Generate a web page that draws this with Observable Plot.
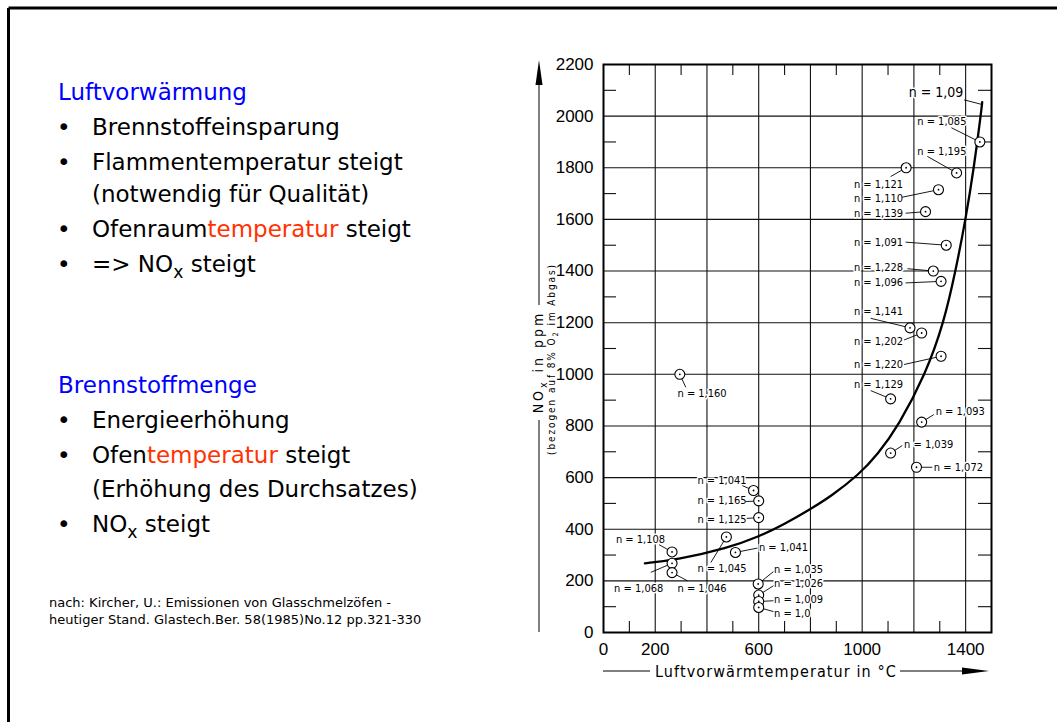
<!DOCTYPE html>
<html><head><meta charset="utf-8">
<script src="https://cdn.jsdelivr.net/npm/d3@7"></script>
<script src="https://cdn.jsdelivr.net/npm/@observablehq/plot@0.6"></script>
<style>
html,body{margin:0;padding:0;background:#fff;}
#wrap{position:relative;width:1057px;height:722px;overflow:hidden;}
</style></head><body><div id="wrap"></div>
<script>
// ---- scale ticks ----
const xMajor = [200, 400, 600, 800, 1000, 1200, 1400];
const yMajor = [200, 400, 600, 800, 1000, 1200, 1400, 1600, 1800, 2000];
const xMinor = [100, 300, 500, 700, 900, 1100, 1300];
const yMinor = [100, 300, 500, 700, 900, 1100, 1300, 1500, 1700, 1900, 2100];
const xTickLabels = [0, 200, 600, 1000, 1400];
const yTickLabels = [0, 200, 400, 600, 800, 1000, 1200, 1400, 1600, 1800, 2000, 2200];

// ---- fitted curve ----
const curveX = [160, 285, 480, 600, 700, 800, 880, 988, 1060, 1140, 1245, 1316, 1361, 1400, 1432, 1458, 1464];
const curveY = [268, 282, 327, 371, 420, 478, 528, 612, 690, 800, 1000, 1200, 1400, 1600, 1800, 2000, 2054];
const curveN = "1,09";
const curveLabelX = 1180, curveLabelY = 2093;
const curveLeaderX = 1394, curveLeaderY = 2063;
const curveLeaderEndX = 1464, curveLeaderEndY = 2045;

// ---- measured points ----
const pointN = ["1,085","1,195","1,121","1,110","1,139","1,091","1,228","1,096","1,141","1,202","1,220","1,129","1,160","1,093","1,039","1,072","1,041","1,165","1,125","1,108","1,068","1,046","1,045","1,041","1,035","1,026","1,009","1,0"];
const pointX = [1455,1365,1170,1295,1245,1325,1275,1305,1185,1230,1305,1110,295,1230,1110,1210,580,600,600,265,265,265,475,510,598,600,600,600];
const pointY = [1900,1780,1800,1715,1630,1500,1400,1360,1180,1160,1070,905,1000,815,695,640,550,510,445,312,268,232,370,310,188,145,120,97];
// label anchors (start of text) and leader-line start, in data units
const labelX = [1213,1213,968,968,968,968,968,968,968,968,968,968,286,1284,1162,1277,363,363,363,48,41,286,363,601,659,659,659,659];
const labelY = [1979,1863,1734,1682,1624,1512,1412,1354,1243,1127,1038,959,926,855,730,640,588,510,436,359,172,172,248,330,246,188,129,74];
const leaderX = [1345,1252,1110,1155,1168,1168,1175,1168,1033,1162,1162,1033,318,1277,1155,1271,537,550,554,215,183,325,415,595,657,657,657,657];
const leaderY = [1955,1844,1766,1686,1624,1512,1409,1354,1217,1133,1038,937,950,844,724,640,569,507,442,340,233,200,271,327,236,181,123,81];

const points = pointX.map((x, i) => ({x, y: pointY[i], n: pointN[i], lx: labelX[i], ly: labelY[i], ax: leaderX[i], ay: leaderY[i]}));
const curve = curveX.map((x, i) => ({x, y: curveY[i]}));

// ---- slide text ----
const BLUE = "#0000ff", RED = "#ff3300";
const block1Title = "Luftvorwärmung";
const block1Lines = [
  [{t: "Brennstoffeinsparung"}],
  [{t: "Flammentemperatur steigt"}],
  [{t: "(notwendig für Qualität)"}],
  [{t: "Ofenraum"}, {t: "temperatur", c: RED}, {t: " steigt"}],
  [{t: "=> NO"}, {t: "x", sub: true}, {t: " steigt"}]
];
const block1Bullets = [true, true, false, true, true];
const block2Title = "Brennstoffmenge";
const block2Lines = [
  [{t: "Energieerhöhung"}],
  [{t: "Ofen"}, {t: "temperatur", c: RED}, {t: " steigt"}],
  [{t: "(Erhöhung des Durchsatzes)"}],
  [{t: "NO"}, {t: "x", sub: true}, {t: " steigt"}]
];
const block2Bullets = [true, true, false, true];
const citation = ["nach: Kircher, U.: Emissionen von Glasschmelzöfen -", "heutiger Stand. Glastech.Ber. 58(1985)No.12 pp.321-330"];
const xLabel = "Luftvorwärmtemperatur in °C";

// ---- layout ----
const W = 1057, H = 722;
const mL = 603, mR = 66, mT = 64, mB = 90;
const innerW = W - mL - mR, innerH = H - mT - mB;
const minorLen = 11, minorLenY = 13;
const COND = "'DejaVu Sans Condensed', 'DejaVu Sans', sans-serif";

const plot = Plot.plot({
  width: W, height: H,
  marginLeft: mL, marginRight: mR, marginTop: mT, marginBottom: mB,
  style: {fontFamily: "'Liberation Sans Narrow', 'Liberation Sans', sans-serif", fontSize: "17px", background: "transparent", color: "#000", overflow: "visible"},
  x: {domain: [0, 1500], ticks: xTickLabels, tickSize: 0, tickPadding: 10, tickFormat: "d", label: null},
  y: {domain: [0, 2200], ticks: yTickLabels, tickSize: 0, tickPadding: 10, tickFormat: "d", label: null},
  marks: [
    Plot.ruleX(xMajor, {stroke: "#111", strokeWidth: 1.1}),
    Plot.ruleY(yMajor, {stroke: "#111", strokeWidth: 1.1}),
    Plot.tickX(xMinor, {x: d => d, insetTop: innerH - minorLen, stroke: "#111", strokeWidth: 1.1}),
    Plot.tickX(xMinor, {x: d => d, insetBottom: innerH - minorLen, stroke: "#111", strokeWidth: 1.1}),
    Plot.tickY(yMinor, {y: d => d, insetRight: innerW - minorLenY, stroke: "#111", strokeWidth: 1.1}),
    Plot.tickY(yMinor, {y: d => d, insetLeft: innerW - minorLenY, stroke: "#111", strokeWidth: 1.1}),
    Plot.frame({stroke: "#000", strokeWidth: 2}),
    Plot.text(points, {x: "lx", y: "ly", text: d => "n = " + d.n, textAnchor: "start", fontSize: 11, fontFamily: COND, fill: "#000", stroke: "#fff", strokeWidth: 3}),
    Plot.text([curveN], {x: () => curveLabelX, y: () => curveLabelY, text: d => "n = " + d, textAnchor: "start", fontSize: 14, fontFamily: COND, fill: "#000", stroke: "#fff", strokeWidth: 3}),
    Plot.link(points, {x1: "ax", y1: "ay", x2: "x", y2: "y", stroke: "#000", strokeWidth: 0.9}),
    Plot.link([curveN], {x1: () => curveLeaderX, y1: () => curveLeaderY, x2: () => curveLeaderEndX, y2: () => curveLeaderEndY, stroke: "#000", strokeWidth: 0.9}),
    Plot.line(curve, {x: "x", y: "y", curve: "basis", stroke: "#000", strokeWidth: 2.3}),
    Plot.dot(points, {x: "x", y: "y", r: 5, stroke: "#000", fill: "#fff", strokeWidth: 1.1}),
    Plot.dot(points, {x: "x", y: "y", r: 0.9, fill: "#000", stroke: "none"})
  ]
});
document.getElementById("wrap").appendChild(plot);

const svg = d3.select(plot);
const g = svg.append("g").attr("text-anchor", "start");

// slide border (top + left)
g.append("line").attr("x1", 8.5).attr("y1", 8).attr("x2", W).attr("y2", 8).attr("stroke", "#000").attr("stroke-width", 3);
g.append("line").attr("x1", 8.5).attr("y1", 8).attr("x2", 8.5).attr("y2", H).attr("stroke", "#000").attr("stroke-width", 3);

function addParts(x, y, parts, size, family, color) {
  const t = g.append("text").attr("x", x).attr("y", y).attr("text-anchor", "start")
    .style("font-family", family).style("font-size", size + "px").attr("fill", color || "#000");
  let shifted = false;
  parts.forEach(p => {
    const ts = t.append("tspan").text(p.t);
    if (p.c) ts.attr("fill", p.c);
    if (p.sub) { ts.attr("dy", size * 0.28).style("font-size", (size * 0.75) + "px"); shifted = true; }
    else if (shifted) { ts.attr("dy", -size * 0.28); shifted = false; }
  });
  return t;
}

const SANS = "'DejaVu Sans', Verdana, sans-serif";
const fs = 23;
const titleX = 58, bulletX = 57, textX = 92;
function block(title, lines, bullets, y0, steps) {
  addParts(titleX, y0, [{t: title}], fs, SANS, BLUE);
  let y = y0;
  lines.forEach((ln, i) => {
    y += steps[i];
    if (bullets[i]) addParts(bulletX, y, [{t: "•"}], fs, SANS);
    addParts(textX, y, ln, fs, SANS);
  });
}
block(block1Title, block1Lines, block1Bullets, 100, [35, 35, 32, 35, 35]);
block(block2Title, block2Lines, block2Bullets, 393, [35, 35, 34, 35]);
citation.forEach((c, i) => addParts(49, 607 + i * 17, [{t: c}], 13, SANS));

// y-axis label with arrow
const yl = g.append("g");
yl.append("line").attr("x1", 539).attr("y1", 82).attr("x2", 539).attr("y2", 305).attr("stroke", "#000").attr("stroke-width", 1);
yl.append("line").attr("x1", 539).attr("y1", 420).attr("x2", 539).attr("y2", 632).attr("stroke", "#000").attr("stroke-width", 1);
yl.append("path").attr("d", "M539,60 L535.5,85 L542.5,85 Z").attr("fill", "#000");
const t1 = addParts(0, 0, [{t: "NO"}, {t: "x", sub: true}, {t: " in ppm"}], 14, COND);
t1.attr("text-anchor", "middle").style("letter-spacing", "3px").attr("transform", "translate(543,362) rotate(-90)");
const t2 = addParts(0, 0, [{t: "(bezogen auf 8% O"}, {t: "2", sub: true}, {t: " im Abgas)"}], 10, COND);
t2.attr("text-anchor", "middle").style("letter-spacing", "1.9px").attr("transform", "translate(555,359) rotate(-90)");

// x-axis label with arrow
const xl = g.append("g");
xl.append("line").attr("x1", 603).attr("y1", 671).attr("x2", 650).attr("y2", 671).attr("stroke", "#000").attr("stroke-width", 1);
xl.append("line").attr("x1", 900).attr("y1", 671).attr("x2", 965).attr("y2", 671).attr("stroke", "#000").attr("stroke-width", 1);
xl.append("path").attr("d", "M989,671 L962,667.5 L962,674.5 Z").attr("fill", "#000");
addParts(655, 677, [{t: xLabel}], 16, COND).style("letter-spacing", "1.1px");
</script>
</body></html>
